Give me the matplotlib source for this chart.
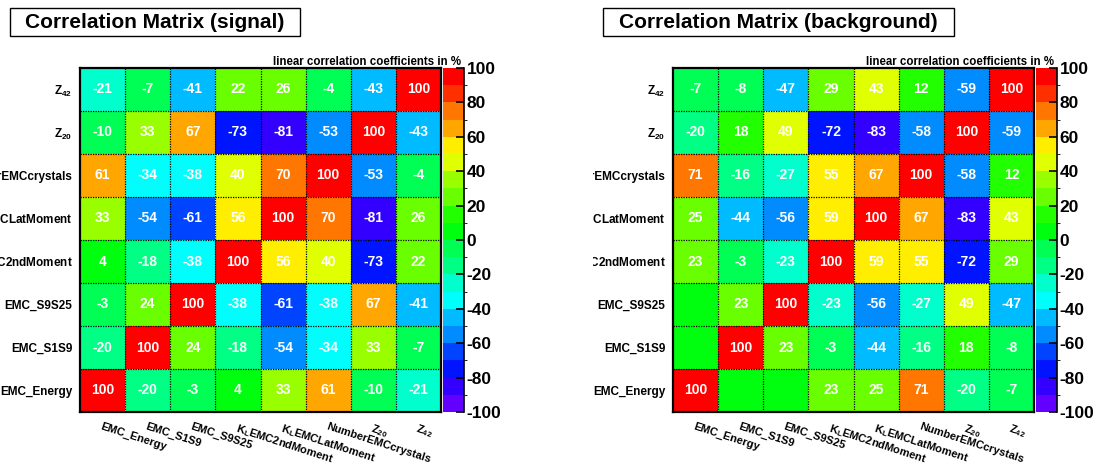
import colorsys

import matplotlib
matplotlib.use("Agg")
import matplotlib.pyplot as plt
import numpy as np
from matplotlib.colors import ListedColormap, BoundaryNorm
from matplotlib.patches import Rectangle
from matplotlib.transforms import Bbox, TransformedBbox

plt.rcParams['font.family'] = ['Liberation Sans', 'DejaVu Sans']
plt.rcParams['font.weight'] = 'bold'
plt.rcParams['mathtext.fontset'] = 'custom'
plt.rcParams['mathtext.rm'] = 'Liberation Sans:bold'
plt.rcParams['mathtext.it'] = 'Liberation Sans:bold'
plt.rcParams['mathtext.bf'] = 'Liberation Sans:bold'
plt.rcParams['mathtext.default'] = 'rm'
plt.rcParams['axes.unicode_minus'] = False

variables = ['EMC_Energy', 'EMC_S1S9', 'EMC_S9S25', 'K$_{L}$EMC2ndMoment',
             'K$_{L}$EMCLatMoment', 'NumberEMCcrystals', 'Z$_{20}$', 'Z$_{42}$']

# rows = variables from bottom (EMC_Energy) to top (Z42), values in %
signal = [
    [100, -20, -3, 4, 33, 61, -10, -21],
    [-20, 100, 24, -18, -54, -34, 33, -7],
    [-3, 24, 100, -38, -61, -38, 67, -41],
    [4, -18, -38, 100, 56, 40, -73, 22],
    [33, -54, -61, 56, 100, 70, -81, 26],
    [61, -34, -38, 40, 70, 100, -53, -4],
    [-10, 33, 67, -73, -81, -53, 100, -43],
    [-21, -7, -41, 22, 26, -4, -43, 100],
]
background = [
    [100, 0, 0, 23, 25, 71, -20, -7],
    [0, 100, 23, -3, -44, -16, 18, -8],
    [0, 23, 100, -23, -56, -27, 49, -47],
    [23, -3, -23, 100, 59, 55, -72, 29],
    [25, -44, -56, 59, 100, 67, -83, 43],
    [71, -16, -27, 55, 67, 100, -58, 12],
    [-20, 18, 49, -72, -83, -58, 100, -59],
    [-7, -8, -47, 29, 43, 12, -59, 100],
]
cb_ticks = [-100, -80, -60, -40, -20, 0, 20, 40, 60, 80, 100]

# ROOT "pretty" palette (violet -> red), 20 contour levels
hues = [280 - (k + 1) * 5.6 for k in range(50)]
idx = [int((c + 0.99) * 50 / 20) for c in range(20)]
cmap = ListedColormap([colorsys.hls_to_rgb(hues[k] / 360, 0.5, 1.0) for k in idx])
norm = BoundaryNorm(np.arange(-100, 101, 10), 20, clip=True)

W, H = 1099, 468
fig = plt.figure(figsize=(W / 100, H / 100), dpi=100)


def fx(px):
    return px / W


def fy(py):
    return 1 - py / H


def panel(data, title, m_left, m_right, cb_left, cb_right, box, clip_left):
    top, bot = 68, 412
    ax = fig.add_axes([fx(m_left), fy(bot), fx(m_right) - fx(m_left), (bot - top) / H])
    mat = np.array(data)
    n = len(variables)
    mesh = ax.pcolormesh(np.arange(n + 1), np.arange(n + 1), mat, cmap=cmap, norm=norm)
    for k in range(1, n):
        ax.axhline(k, color='black', lw=0.9, ls=(0, (1, 1)))
        ax.axvline(k, color='black', lw=0.9, ls=(0, (1, 1)))
    for i in range(n):
        for j in range(n):
            v = mat[i, j]
            if v != 0:
                ax.text(j + 0.5, i + 0.5, str(v), ha='center', va='center',
                        color='white', fontsize=10, fontweight='bold')
    ax.set_xlim(0, n)
    ax.set_ylim(0, n)
    ax.set_xticks(np.arange(n) + 0.5)
    ax.set_yticks(np.arange(n) + 0.5)
    ax.set_xticklabels(variables, rotation=-18, ha='left', va='top',
                       rotation_mode='anchor', fontsize=8)
    ax.set_yticklabels(variables, fontsize=8.5)
    ax.tick_params(axis='both', length=0)
    ax.tick_params(axis='x', pad=7)
    ax.tick_params(axis='y', pad=5.5)
    for sp in ax.spines.values():
        sp.set_linewidth(1.6)
    clip = TransformedBbox(Bbox([[fx(clip_left), 0], [1, 1]]), fig.transFigure)
    for lbl in ax.get_yticklabels():
        lbl.set_clip_box(clip)
        lbl.set_clip_on(True)

    cax = fig.add_axes([fx(cb_left), fy(bot), fx(cb_right) - fx(cb_left), (bot - top) / H])
    cb = fig.colorbar(mesh, cax=cax, ticks=cb_ticks)
    cb.outline.set_visible(False)
    cax.spines['right'].set_visible(True)
    cax.spines['right'].set_linewidth(1.2)
    cax.tick_params(axis='y', direction='in', length=6, width=1.2, right=True,
                    left=False, labelsize=12.5, pad=2)
    for t in cax.get_yticklabels():
        t.set_fontweight('bold')

    fig.text(fx(cb_right - 3), fy(65), 'linear correlation coefficients in %',
             ha='right', va='baseline', fontsize=8.3, fontweight='bold')

    x0, x1, y0, y1 = box
    fig.add_artist(Rectangle((fx(x0), fy(y1)), fx(x1) - fx(x0), (y1 - y0) / H,
                             transform=fig.transFigure, facecolor='white',
                             edgecolor='black', lw=1))
    fig.text(fx((x0 + x1) / 2), fy((y0 + y1) / 2 + 1), title, ha='center', va='center',
             fontsize=15, fontweight='bold')


panel(signal, 'Correlation Matrix (signal)', 80, 441, 443, 464, (10, 300, 8, 36), 0)
panel(background, 'Correlation Matrix (background)', 673, 1034, 1036, 1057,
      (603, 954, 8, 36), 593)

fig.savefig('out.png', dpi=100)
